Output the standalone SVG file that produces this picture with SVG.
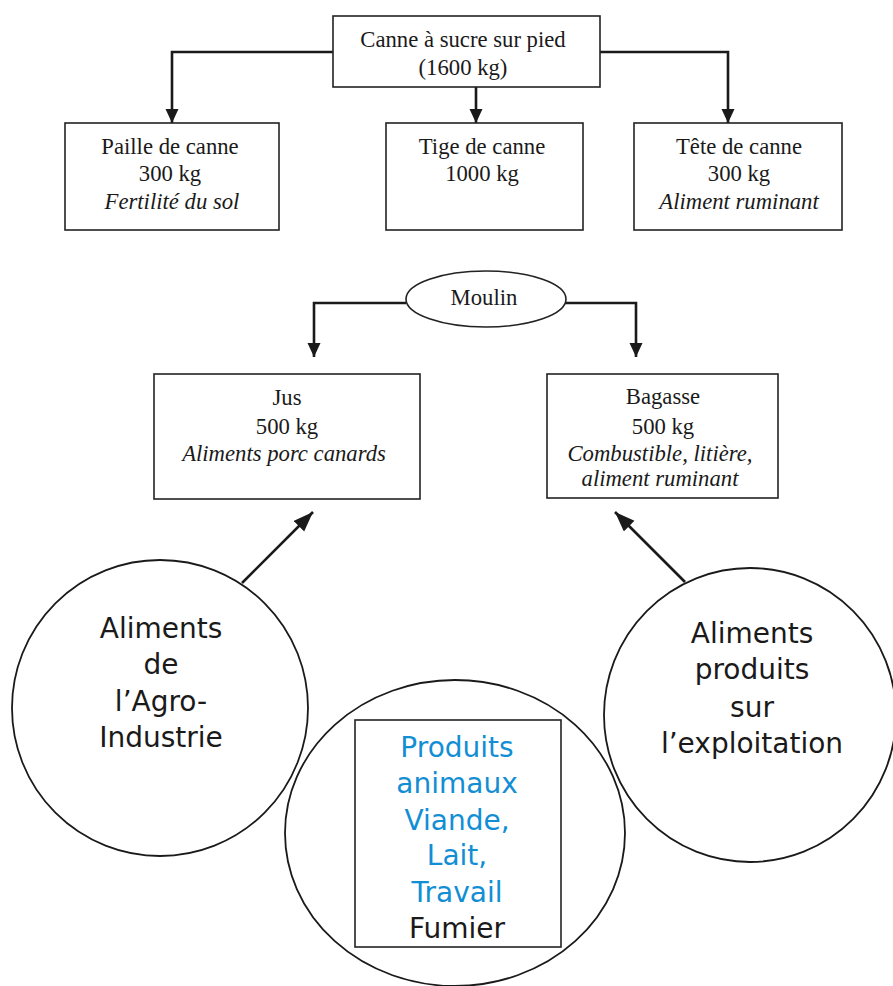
<svg xmlns="http://www.w3.org/2000/svg" width="893" height="986" viewBox="0 0 893 986">
<style>
.box{fill:#fff;stroke:#222;stroke-width:1.6}
.ring{fill:none;stroke:#1a1a1a;stroke-width:1.8}
.t{font-family:"Liberation Serif","Times New Roman",serif;font-size:22.7px;fill:#1a1a1a;text-anchor:middle}
.i{font-style:italic}
.c{font-family:"DejaVu Sans","Noto Sans",sans-serif;font-size:28px;fill:#1a1a1a;text-anchor:middle}
.blue{fill:#128ed4}
.con{fill:none;stroke:#1a1a1a;stroke-width:2.6}
.diag{fill:none;stroke:#1a1a1a;stroke-width:2.6}
</style>
<defs>
<marker id="ah" markerUnits="userSpaceOnUse" markerWidth="16" markerHeight="14" refX="14" refY="6.5" orient="auto">
<path d="M0,0 L14,6.5 L0,13 z" fill="#1a1a1a"/>
</marker>
<marker id="ah2" markerUnits="userSpaceOnUse" markerWidth="22" markerHeight="16" refX="20" refY="7.5" orient="auto">
<path d="M0,0 L20,7.5 L0,15 z" fill="#1a1a1a"/>
</marker>
</defs>
<rect width="893" height="986" fill="#fff"/>

<g id="connectors">
<path class="con" d="M333,52 H172 V123" marker-end="url(#ah)"/>
<path class="con" d="M476,87 V123" marker-end="url(#ah)"/>
<path class="con" d="M600,52 H728 V123" marker-end="url(#ah)"/>
<path class="con" d="M406,303 H314 V357" marker-end="url(#ah)"/>
<path class="con" d="M565,303 H636 V357" marker-end="url(#ah)"/>
<path class="diag" d="M242,583 L313,512" marker-end="url(#ah2)"/>
<path class="diag" d="M685,582 L615,512" marker-end="url(#ah2)"/>
</g>

<g id="canne">
<rect class="box" x="333" y="16" width="267" height="71"/>
<text class="t" x="463" y="47">Canne à sucre sur pied</text>
<text class="t" x="463" y="75">(1600 kg)</text>
</g>

<g id="paille">
<rect class="box" x="65" y="123" width="214" height="107"/>
<text class="t" x="170" y="154">Paille de canne</text>
<text class="t" x="170" y="181">300 kg</text>
<text class="t i" x="172" y="209">Fertilité du sol</text>
</g>

<g id="tige">
<rect class="box" x="386" y="123" width="197" height="107"/>
<text class="t" x="482" y="154">Tige de canne</text>
<text class="t" x="482" y="181">1000 kg</text>
</g>

<g id="tete">
<rect class="box" x="634" y="123" width="208" height="107"/>
<text class="t" x="739" y="154">Tête de canne</text>
<text class="t" x="739" y="181">300 kg</text>
<text class="t i" x="739" y="209">Aliment ruminant</text>
</g>

<g id="moulin">
<ellipse class="box" cx="486" cy="299" rx="80" ry="28"/>
<text class="t" x="484" y="305">Moulin</text>
</g>

<g id="jus">
<rect class="box" x="154" y="374" width="266" height="125"/>
<text class="t" x="287" y="405">Jus</text>
<text class="t" x="287" y="434">500 kg</text>
<text class="t i" x="284" y="461">Aliments porc canards</text>
</g>

<g id="bagasse">
<rect class="box" x="547" y="374" width="231" height="124"/>
<text class="t" x="663" y="404">Bagasse</text>
<text class="t" x="663" y="434">500 kg</text>
<text class="t i" x="660" y="461">Combustible, litière,</text>
<text class="t i" x="660" y="486">aliment ruminant</text>
</g>

<g id="agro">
<circle class="ring" cx="160" cy="708" r="148"/>
<text class="c" x="161" y="638">Aliments</text>
<text class="c" x="161" y="674">de</text>
<text class="c" x="161" y="711">l’Agro-</text>
<text class="c" x="161" y="747">Industrie</text>
</g>

<g id="produits">
<ellipse class="ring" cx="455" cy="833" rx="170" ry="153"/>
<rect class="box" x="355" y="720" width="206" height="227" style="fill:none"/>
<text class="c blue" x="457" y="757">Produits</text>
<text class="c blue" x="457" y="793">animaux</text>
<text class="c blue" x="457" y="830">Viande,</text>
<text class="c blue" x="457" y="865">Lait,</text>
<text class="c blue" x="457" y="902">Travail</text>
<text class="c" x="457" y="938">Fumier</text>
</g>

<g id="exploitation">
<ellipse class="ring" cx="750" cy="715" rx="146" ry="147"/>
<text class="c" x="752" y="643">Aliments</text>
<text class="c" x="752" y="679">produits</text>
<text class="c" x="752" y="717">sur</text>
<text class="c" x="752" y="753">l’exploitation</text>
</g>
</svg>
